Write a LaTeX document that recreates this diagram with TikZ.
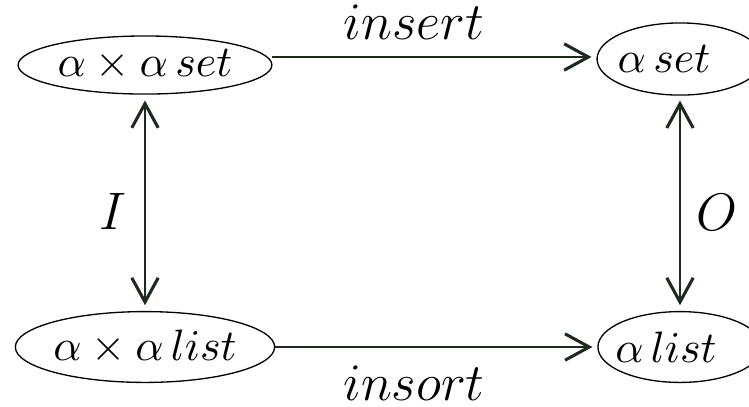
\documentclass[tikz,border=0pt]{standalone}
\usetikzlibrary{shapes.geometric,arrows.meta}
\definecolor{lncol}{RGB}{30,42,30}
\begin{document}
\begin{tikzpicture}[x=0.2273pt,y=-0.2273pt,
  oval/.style={ellipse,draw=black,line width=0.3pt,inner sep=0pt},
  txt/.style={inner sep=0pt},
  conn/.style={draw=lncol,line width=0.34pt,
    -{Straight Barb[length=5.5pt,width=6pt,line width=0.7pt]}},
  biconn/.style={draw=lncol,line width=0.34pt,
    {Straight Barb[length=5.5pt,width=6pt,line width=0.7pt]}-{Straight Barb[length=5.5pt,width=6pt,line width=0.7pt]}},
  lbl/.style={anchor=base,inner sep=0pt,font=\large}]
\useasboundingbox (0,0) rectangle (749,406);
\node[oval,minimum width=57.7pt,minimum height=13.2pt] (tl) at (145,65) {$\alpha\times\alpha\,set$};
\node[oval,minimum width=37.7pt,minimum height=16.4pt] (tr) at (680,59) {};
\node[txt] (trt) at (664,59) {$\alpha\,set$};
\node[oval,minimum width=57.5pt,minimum height=16.1pt] (bl) at (145,347) {$\alpha\times\alpha\,list$};
\node[oval,minimum width=37.3pt,minimum height=16.1pt] (br) at (680,347) {};
\node[txt] (brt) at (666,347) {$\alpha\,list$};
\coordinate (tlout) at (272,57);
\draw[conn,shorten >=1.1pt] (tlout) -- (tr.west |- tlout);
\draw[conn,shorten >=1.1pt] (bl.east) -- (br.west);
\draw[biconn,shorten <=1.3pt,shorten >=1.3pt] (tl.south) -- (bl.north);
\draw[biconn,shorten <=1.1pt,shorten >=1.3pt] (tr.south) -- (br.north);
\node[lbl] (ins) at (414,39) {$insert$};
\node[lbl] (inso) at (414,400) {$insort$};
\node[lbl] (li) at (113,229) {$I$};
\node[lbl] (lo) at (717,230) {$O$};
\end{tikzpicture}
\end{document}
